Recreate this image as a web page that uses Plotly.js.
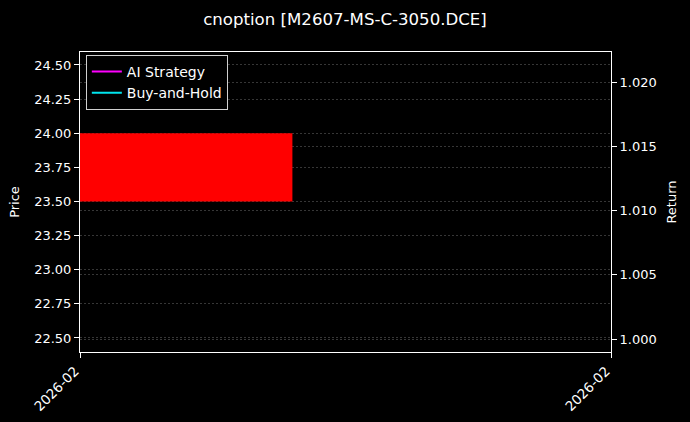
<!DOCTYPE html>
<html>
<head>
<meta charset="utf-8">
<script src="https://cdn.plot.ly/plotly-3.0.1.min.js"></script>
<style>
  body { margin: 0; background: #000; }
  #graphDiv { width: 690px; height: 422px; }
</style>
</head>
<body>
<div id="graphDiv"></div>
<script>
// one daily candle, return series have a single point each
var dates = ['2026-02-10'];
var open = [24.0];
var close = [23.5];
var strategy = [1.0];
var buyhold = [1.0];

var DAY = 86400000;
var t0 = new Date(dates[0] + 'T00:00:00Z').getTime();
function fmt(ms) {
  return new Date(ms).toISOString().slice(0, 19).replace('T', ' ');
}
var xr = [fmt(t0 - 0.4 * DAY), fmt(t0 + 1.6 * DAY)];

var base = [], height = [], colors = [];
for (var i = 0; i < open.length; i++) {
  base.push(Math.min(open[i], close[i]));
  height.push(Math.abs(open[i] - close[i]));
  colors.push(close[i] >= open[i] ? '#00ff00' : '#ff0000');
}

var candle = {
  type: 'bar',
  x: dates,
  y: height,
  base: base,
  width: 0.8 * DAY,
  marker: {color: colors, line: {width: 0}},
  showlegend: false,
  hoverinfo: 'skip'
};

var trace1 = {
  type: 'scatter',
  mode: 'lines',
  name: 'AI Strategy',
  x: dates,
  y: strategy,
  yaxis: 'y2',
  line: {color: '#ff00ff', width: 2}
};

var trace2 = {
  type: 'scatter',
  mode: 'lines',
  name: 'Buy-and-Hold',
  x: dates,
  y: buyhold,
  yaxis: 'y2',
  line: {color: '#00e5ee', width: 2}
};

var data = [candle, trace1, trace2];

var grid = {gridcolor: '#363636', griddash: '2px,2px', gridwidth: 1};

var layout = {
  width: 690,
  height: 422,
  paper_bgcolor: '#000',
  plot_bgcolor: '#000',
  font: {family: 'DejaVu Sans', color: '#fff', size: 13},
  title: {text: 'cnoption [M2607-MS-C-3050.DCE]', x: 0.5, xanchor: 'center', y: 0.955, yanchor: 'middle', font: {size: 16.6, color: '#fff'}},
  margin: {l: 80, r: 79, t: 52, b: 70},
  showlegend: true,
  legend: {
    x: 0.011, y: 0.99, xanchor: 'left', yanchor: 'top',
    bgcolor: '#000', bordercolor: '#d0d0d0', borderwidth: 1,
    font: {size: 14, color: '#fff'}
  },
  xaxis: {
    type: 'date',
    range: xr,
    tickvals: xr,
    ticktext: ['2026-02', '2026-02'],
    tickangle: -45,
    ticklabelshift: -5,
    showgrid: false,
    zeroline: false,
    showline: true,
    linecolor: '#fff',
    linewidth: 1,
    mirror: true,
    ticks: 'outside',
    ticklen: 5,
    tickcolor: '#fff',
    tickfont: {size: 13.5}
  },
  yaxis: Object.assign({
    title: {text: 'Price', font: {size: 13}, standoff: 11},
    range: [22.397, 24.595],
    dtick: 0.25,
    tick0: 22.5,
    tickformat: '.2f',
    showgrid: true,
    zeroline: false,
    showline: true,
    linecolor: '#fff',
    linewidth: 1,
    ticks: 'outside',
    ticklen: 5,
    tickcolor: '#fff'
  }, grid),
  yaxis2: Object.assign({
    title: {text: 'Return', font: {size: 13}, standoff: 11},
    overlaying: 'y',
    side: 'right',
    range: [0.99899, 1.02236],
    dtick: 0.005,
    tick0: 1.0,
    tickformat: '.3f',
    showgrid: true,
    zeroline: false,
    showline: true,
    linecolor: '#fff',
    linewidth: 1,
    ticks: 'outside',
    ticklen: 5,
    tickcolor: '#fff'
  }, grid)
};

Plotly.newPlot('graphDiv', data, layout, {displayModeBar: false});
</script>
</body>
</html>
